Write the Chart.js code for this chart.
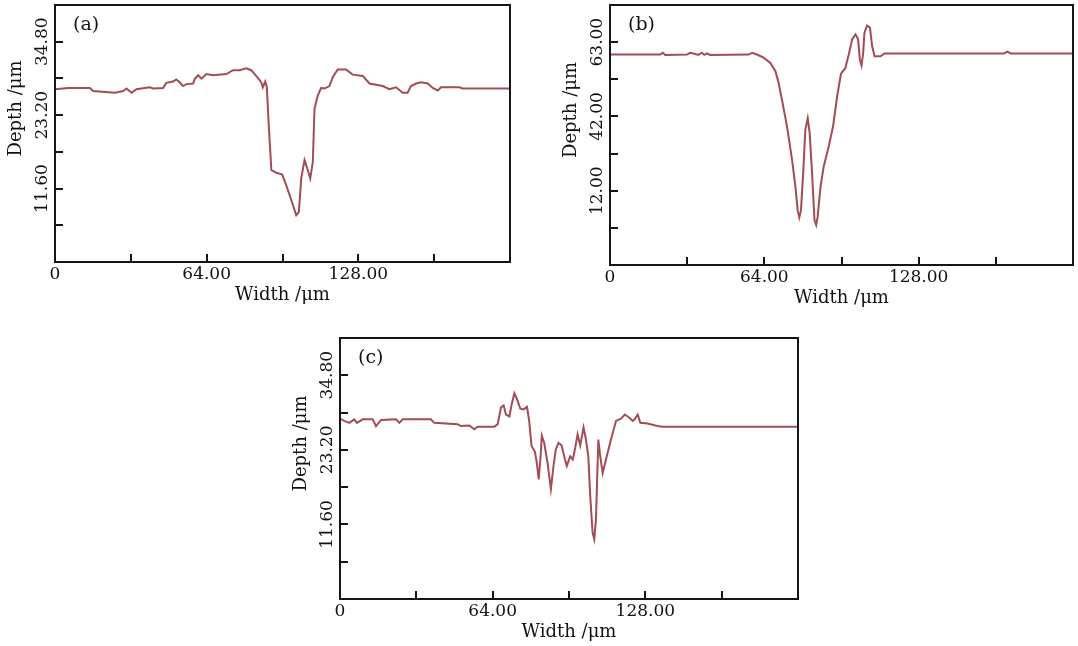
<!DOCTYPE html>
<html>
<head>
<meta charset="utf-8">
<script src="https://cdn.jsdelivr.net/npm/chart.js@4.4.1/dist/chart.umd.min.js"></script>
<style>
  body { margin: 0; background: #fff; width: 1078px; height: 646px; position: relative; overflow: hidden; }
  .panel { position: absolute; }
</style>
</head>
<body>
<div class="panel" style="left:0;top:0"><canvas id="chartA" width="530" height="310"></canvas></div>
<div class="panel" style="left:555px;top:0"><canvas id="chartB" width="523" height="310"></canvas></div>
<div class="panel" style="left:285px;top:320px"><canvas id="chartC" width="525" height="326"></canvas></div>
<script>
// profile (a)
const widthA = [0, 5.6, 14.7, 16.1, 25.3, 28.8, 30.2, 32.3, 34.4, 40, 41.4, 45.6, 47, 49.8, 51.2, 52.6, 54, 55.5, 58.3, 59, 60.4, 61.8, 63.9, 66.7, 72.3, 75.1, 77.9, 80.7, 82.8, 85.6, 87, 87.7, 88.7, 89.4, 90.2, 91.3, 93.4, 95.9, 97.6, 99.7, 101.8, 102.9, 103.9, 105.3, 106.7, 107.7, 108.8, 109.5, 110.9, 112.3, 113.7, 115.8, 117.2, 119.3, 122.8, 125.6, 129.9, 132.7, 138.3, 141.1, 143.9, 146.7, 148.8, 150.2, 152.4, 154.5, 157.3, 159.4, 161.5, 162.9, 170.6, 172, 192];
const depthA = [27.3, 27.5, 27.5, 27.0, 26.75, 27.0, 27.4, 26.75, 27.3, 27.6, 27.4, 27.5, 28.3, 28.5, 28.85, 28.4, 27.8, 28.1, 28.2, 28.96, 29.5, 28.96, 29.7, 29.5, 29.7, 30.3, 30.3, 30.6, 30.3, 29.1, 28.4, 27.6, 28.5, 27.6, 21.6, 14.5, 14.1, 13.8, 12.1, 9.8, 7.4, 7.9, 13.2, 16.1, 14.5, 13.2, 15.8, 24.2, 26.3, 27.5, 27.4, 27.8, 29.2, 30.4, 30.4, 29.6, 29.4, 28.2, 27.8, 27.3, 27.6, 26.75, 26.75, 27.8, 28.2, 28.4, 28.2, 27.5, 27.1, 27.6, 27.6, 27.4, 27.4];

// profile (b)
const widthB = [0, 20.8, 21.9, 22.9, 31.9, 33.2, 34.6, 36.6, 38.1, 39.1, 40.2, 41.6, 57.5, 58.9, 60.9, 63.7, 66.5, 68.6, 69.9, 71.3, 73.4, 75.5, 76.9, 77.8, 78.5, 79.2, 80.1, 81, 82, 82.8, 83.8, 84.8, 85.5, 86.1, 87.3, 88.6, 90.7, 92.5, 94.2, 95.8, 97.6, 99, 100.4, 101.8, 102.9, 103.6, 104.3, 105, 105.5, 106.6, 107.8, 108.7, 109.7, 112.2, 113.8, 163.4, 164.8, 166.2, 192];
const depthB = [59.5, 59.5, 60, 59.4, 59.5, 60, 59.8, 59.4, 60, 59.4, 59.8, 59.4, 59.5, 60, 59.5, 58.6, 57.1, 54.8, 51.5, 46.7, 39.2, 29.7, 22.1, 15.5, 13.4, 15.5, 25.9, 38.2, 41.5, 37.3, 25.9, 12.7, 11.3, 13.6, 22.1, 27.8, 33.5, 39.2, 47.7, 54.1, 55.7, 59.5, 63.8, 65.2, 63.8, 58.1, 56.4, 60, 65.6, 67.7, 67.1, 61.9, 59, 59, 59.8, 59.8, 60.3, 59.8, 59.8];

// profile (c)
const widthC = [0, 1.8, 3.9, 6, 7.1, 9.5, 13.7, 15.1, 17.2, 23.5, 24.9, 26.3, 38.1, 39.5, 49.3, 50.7, 54.2, 56.3, 57.7, 64.7, 66.1, 67.5, 68.6, 69.6, 71, 72.1, 73.1, 74.2, 75.6, 77, 78.4, 79.3, 80.3, 81.7, 82.5, 83.3, 84, 84.6, 85.6, 87, 88.4, 89.5, 90.5, 91.6, 92.9, 94.3, 95.1, 96.5, 97.6, 98.6, 99.6, 100.7, 102.1, 103.1, 104.1, 104.9, 105.9, 106.6, 107.3, 108.3, 109.1, 110.1, 111.5, 113.6, 115.7, 117.8, 119.4, 121.3, 122.7, 123.6, 124.8, 125.9, 128.9, 133.1, 135.2, 192];
const depthC = [28.05, 27.7, 27.4, 27.95, 27.4, 27.95, 27.95, 26.9, 27.85, 27.95, 27.4, 27.95, 27.95, 27.4, 27.2, 26.9, 27, 26.4, 26.8, 26.8, 27.2, 29.8, 30.1, 28.7, 28.4, 30.5, 32, 31.1, 29.6, 29.5, 29.9, 27.7, 23.8, 22.9, 21.2, 18.6, 21.7, 25.4, 24.3, 21.2, 17.1, 20.7, 23.3, 24.3, 23.9, 21.7, 20.7, 22.2, 21.7, 23.5, 25.6, 23.9, 26.7, 24.8, 22.2, 16, 10.3, 9.3, 12.4, 24.8, 22.2, 19.6, 21.7, 24.8, 27.7, 28.05, 28.7, 28.2, 27.7, 28, 28.7, 27.4, 27.3, 26.9, 26.8, 26.8];

// axes
const xTickValues = [0, 32, 64, 96, 128, 160];
const xTickLabels = ['0', '', '64.00', '', '128.00', ''];
const yTickValuesAC = [0, 5.8, 11.6, 17.4, 23.2, 29.0, 34.8];
const yTickLabelsAC = ['', '', '11.60', '', '23.20', '', '34.80'];
const yTickValuesB = [0, 10.5, 21, 31.5, 42, 52.5, 63];
const yTickLabelsB = ['', '', '12.00', '', '42.00', '', '63.00'];

const lineColor = '#a24c58';
const serif = '"DejaVu Serif", "Liberation Serif", serif';

const framePlugin = {
    id: 'frame',
    afterDraw(chart, args, opts) {
        const ctx = chart.ctx;
        const area = chart.chartArea;
        const xs = chart.scales.x;
        const ys = chart.scales.y;
        ctx.save();
        ctx.strokeStyle = '#151515';
        ctx.lineWidth = 2;
        ctx.strokeRect(area.left, area.top, area.right - area.left, area.bottom - area.top);

        // inward ticks
        ctx.beginPath();
        xTickValues.forEach(v => {
            if (v === 0) return;
            const px = Math.round(xs.getPixelForValue(v));
            ctx.moveTo(px, area.bottom);
            ctx.lineTo(px, area.bottom - 8);
        });
        opts.yValues.forEach(v => {
            if (v === 0) return;
            const py = Math.round(ys.getPixelForValue(v));
            ctx.moveTo(area.left, py);
            ctx.lineTo(area.left + 8, py);
        });
        ctx.stroke();

        ctx.fillStyle = '#111';
        ctx.font = '17px ' + serif;
        ctx.textAlign = 'center';
        ctx.textBaseline = 'middle';
        xTickValues.forEach((v, i) => {
            if (!xTickLabels[i]) return;
            ctx.fillText(xTickLabels[i], xs.getPixelForValue(v), area.bottom + 13);
        });
        opts.yValues.forEach((v, i) => {
            if (!opts.yLabels[i]) return;
            ctx.save();
            ctx.translate(area.left - 12, ys.getPixelForValue(v));
            ctx.rotate(-Math.PI / 2);
            ctx.fillText(opts.yLabels[i], 0, 0);
            ctx.restore();
        });

        ctx.font = '18px ' + serif;
        ctx.fillText('Width /\u03bcm', (area.left + area.right) / 2, area.bottom + 33);
        ctx.save();
        ctx.translate(area.left - 39, (area.top + area.bottom) / 2 - 25);
        ctx.rotate(-Math.PI / 2);
        ctx.fillText('Depth /\u03bcm', 0, 0);
        ctx.restore();

        ctx.font = '19px ' + serif;
        ctx.textAlign = 'left';
        ctx.fillText(opts.panel, area.left + 18, area.top + 20);
        ctx.restore();
    }
};

function makeChart(id, widths, depths, yMax, yValues, yLabels, panel, padding) {
    const points = widths.map((w, i) => ({ x: w, y: depths[i] }));
    return new Chart(document.getElementById(id), {
        type: 'line',
        data: {
            datasets: [{
                data: points,
                borderColor: lineColor,
                borderWidth: 2,
                pointRadius: 0,
                tension: 0,
                fill: false
            }]
        },
        options: {
            responsive: false,
            animation: false,
            layout: { padding: padding },
            plugins: {
                legend: { display: false },
                tooltip: { enabled: false },
                frame: { yValues: yValues, yLabels: yLabels, panel: panel }
            },
            scales: {
                x: { type: 'linear', min: 0, max: 192, display: false },
                y: { type: 'linear', min: 0, max: yMax, display: false }
            }
        },
        plugins: [framePlugin]
    });
}

makeChart('chartA', widthA, depthA, 40.6, yTickValuesAC, yTickLabelsAC, '(a)', { left: 55, right: 20, top: 5, bottom: 48 });
makeChart('chartB', widthB, depthB, 73.5, yTickValuesB, yTickLabelsB, '(b)', { left: 55, right: 5, top: 5, bottom: 45 });
makeChart('chartC', widthC, depthC, 40.6, yTickValuesAC, yTickLabelsAC, '(c)', { left: 55, right: 12, top: 18, bottom: 47 });
</script>
</body>
</html>
